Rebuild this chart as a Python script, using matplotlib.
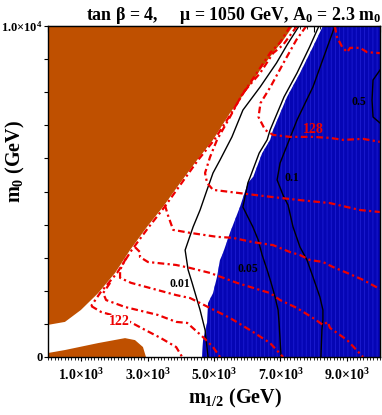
import numpy as np
import matplotlib
matplotlib.use("Agg")
import matplotlib.pyplot as plt
from matplotlib.ticker import FixedLocator, MultipleLocator

plt.rcParams['font.family'] = ['Liberation Serif', 'DejaVu Serif']
plt.rcParams['font.weight'] = 'bold'
plt.rcParams['mathtext.fontset'] = 'custom'
plt.rcParams['mathtext.rm'] = 'Liberation Serif:bold'
plt.rcParams['mathtext.it'] = 'Liberation Serif:bold'
plt.rcParams['mathtext.bf'] = 'Liberation Serif:bold'
plt.rcParams['hatch.linewidth'] = 0.6

# excluded regions (m_1/2, m0 in GeV)
brown_top_x = [0, 7380, 7050, 6840, 6390, 5990, 5480, 4970, 4490, 3980, 3460, 2980, 2470, 2020, 1510, 990, 510, 0]
brown_top_y = [10000, 10000, 9520, 9270, 8670, 8070, 7370, 6560, 5950, 5260, 4530, 3930, 3230, 2540, 1930, 1420, 1060, 970]
brown_low_x = [0, 0, 510, 1510, 2320, 2620, 2860, 2950]
brown_low_y = [0, 120, 210, 420, 570, 510, 300, 0]
blue_x = [8280, 7980, 7590, 7200, 6780, 6690, 6450, 6180, 6020, 5780, 5480, 5270, 5180, 5090, 4970, 4820, 4790, 4670, 4640, 10000, 10000]
blue_y = [10000, 9370, 8580, 7860, 6860, 6560, 6160, 5440, 5260, 4530, 3750, 3140, 2930, 2420, 1930, 1630, 1030, 510, 0, 0, 10000]

# black contours
c001_x = [7560, 7200, 6880, 6390, 5870, 5540, 5180, 4970, 4790, 4580, 4370, 4130, 4220, 4340, 4580, 4730, 4820]
c001_y = [10000, 9430, 8880, 8160, 7460, 6650, 5950, 5560, 5050, 4440, 3930, 3230, 2630, 2240, 1420, 820, 0]
c005_x = [8160, 7880, 7500, 7110, 6690, 6600, 6360, 6090, 6020, 5870, 6170, 6330, 6450, 6600, 6720, 6840, 6930, 6960, 7020]
c005_y = [10000, 9370, 8580, 7860, 6860, 6560, 6160, 5440, 5260, 4530, 3930, 3540, 3080, 2630, 2240, 1810, 1420, 1030, 0]
c01_x = [8640, 8490, 7980, 7500, 7230, 6990, 6900, 7080, 7230, 7380, 7590, 7800, 7980, 8190, 8280, 8280, 8250, 8220]
c01_y = [10000, 9580, 8160, 7160, 6470, 5860, 5350, 4890, 4590, 3930, 3320, 2930, 2420, 1810, 1420, 1120, 820, 0]
c05_x = [10000, 9790, 9760, 9790, 10000]
c05_y = [8670, 8370, 7760, 7250, 7070]

# Higgs mass contours (red dash-dot)
edge_x = [7300, 6990, 6700, 6300, 5900, 5500, 5000, 4520, 4020, 3500, 3030, 2520, 2080, 1580, 1300]
edge_y = [10000, 9500, 9200, 8600, 8000, 7330, 6550, 5950, 5250, 4520, 3920, 3230, 2540, 1950, 1540]
h122_x = [1300, 1600, 2020, 2470, 2920, 3400, 3860, 4040]
h122_y = [1540, 1360, 1240, 1060, 820, 570, 300, 0]
h123_x = [1870, 1660, 1750, 2320, 3310, 3860, 4190, 4670, 4970, 5180]
h123_y = [2240, 1930, 1720, 1510, 1270, 1060, 1030, 600, 300, 0]
h124_x = [2350, 2170, 2170, 2500, 3310, 3860, 4280, 4880, 5480, 6170, 6690, 7080]
h124_y = [2990, 2630, 2390, 2240, 2020, 1870, 1780, 1480, 1180, 760, 420, 0]
h125_x = [2620, 2770, 2770, 3010, 3860, 4280, 4880, 5690, 6690, 6990, 7500, 7980, 8280, 8430, 8490, 9010, 9490]
h125_y = [3320, 3170, 3020, 2870, 2780, 2690, 2540, 2240, 1930, 1720, 1480, 1180, 970, 1060, 880, 510, 0]
h126_x = [3520, 3610, 3770, 4280, 5090, 5570, 6170, 6780, 7290, 7590, 7890, 8280, 8580, 9010, 9490, 10000]
h126_y = [4590, 4290, 3840, 3750, 3630, 3600, 3470, 3380, 3170, 3080, 2930, 2870, 2720, 2540, 2330, 2050]
h127_x = [7500, 7080, 6780, 6390, 5870, 5480, 5090, 4880, 4730, 4790, 4970, 5780, 6780, 7590, 8490, 9400, 10000]
h127_y = [10000, 9430, 9180, 8580, 7980, 7250, 6560, 6040, 5560, 5260, 5050, 4950, 4830, 4740, 4650, 4440, 4380]
h128_x = [7780, 7480, 7090, 6700, 6400, 6340, 6540, 6780, 7290, 7980, 8490, 8890, 9490, 10000]
h128_y = [10000, 9580, 8880, 8160, 7670, 7250, 6860, 6710, 6650, 6650, 6620, 6560, 6590, 6500]
h129_x = [8640, 8700, 8860, 9010, 9100, 9400, 9610, 10000]
h129_y = [10000, 9670, 9370, 9210, 9340, 9340, 9210, 9180]

fig = plt.figure(figsize=(3.82, 4.15), dpi=100)
ax = fig.add_axes([0.1257, 0.1398, 0.8691, 0.7975])

ax.fill(brown_top_x, brown_top_y, color='#bf5000', lw=0)
ax.fill(brown_low_x, brown_low_y, color='#bf5000', lw=0)
ax.fill(blue_x, blue_y, facecolor='#0505b4', edgecolor='#1c1cd2', hatch='||||', lw=0)

for xs, ys in [(c001_x, c001_y), (c005_x, c005_y), (c01_x, c01_y), (c05_x, c05_y)]:
    ax.plot(xs, ys, color='black', lw=1.0)

for xs, ys in [(edge_x, edge_y), (h122_x, h122_y), (h123_x, h123_y), (h124_x, h124_y),
               (h125_x, h125_y), (h126_x, h126_y), (h127_x, h127_y), (h128_x, h128_y),
               (h129_x, h129_y)]:
    ax.plot(xs, ys, color='#ee0000', lw=1.6, ls=(0, (3, 1.5, 1, 1.5)))

ax.text(2140, 1060, '122', color='#ee0000', fontsize=10, ha='center', va='center',
        bbox=dict(facecolor='white', edgecolor='none', pad=0.5))
ax.text(7980, 6880, '128', color='#ee0000', fontsize=10, ha='center', va='center')
ax.text(3980, 2200, '0.01', color='black', fontsize=8.5, ha='center', va='center')
ax.text(6020, 2660, '0.05', color='black', fontsize=8.5, ha='center', va='center')
ax.text(7350, 5410, '0.1', color='black', fontsize=8.5, ha='center', va='center')
ax.text(9370, 7700, '0.5', color='black', fontsize=8.5, ha='center', va='center')

ax.set_xlim(0, 10000)
ax.set_ylim(0, 10000)

xt = [1000, 3000, 5000, 7000, 9000]
ax.xaxis.set_major_locator(FixedLocator(xt))
ax.set_xticklabels([r'1.0$\times$10$^3$', r'3.0$\times$10$^3$', r'5.0$\times$10$^3$',
                    r'7.0$\times$10$^3$', r'9.0$\times$10$^3$'], fontsize=10)
ax.xaxis.set_minor_locator(MultipleLocator(100))
ax.tick_params(axis='x', which='major', direction='out', length=3, width=0.8, pad=4)
ax.tick_params(axis='x', which='minor', direction='out', length=2, width=0.6)

ax.yaxis.set_major_locator(FixedLocator([0, 10000]))
ax.set_yticklabels(['0', r'1.0$\times$10$^4$'], fontsize=9)
ax.yaxis.set_minor_locator(MultipleLocator(1000))
ax.tick_params(axis='y', which='both', direction='out', length=3, width=0.8, pad=1)

top = ax.secondary_xaxis('top')
top.xaxis.set_major_locator(MultipleLocator(1000))
top.xaxis.set_minor_locator(MultipleLocator(200))
top.tick_params(which='major', direction='in', length=4, width=0.8, labeltop=False)
top.tick_params(which='minor', direction='in', length=2, width=0.6)
right = ax.secondary_yaxis('right')
right.yaxis.set_major_locator(MultipleLocator(1000))
right.tick_params(direction='in', length=3, width=0.8, labelright=False)

for s in ax.spines.values():
    s.set_linewidth(1.0)

fig.text(0.997, 0.962, r'tan β = 4,     μ = 1050 GeV, A$_0$ = 2.3 m$_0$', fontsize=12.9,
         ha='right', va='center')
fig.text(0.614, 0.04, r'm$_{1/2}$ (GeV)', fontsize=14.5, ha='center', va='center')
fig.text(0.04, 0.612, r'm$_0$ (GeV)', fontsize=14.5, ha='center', va='center', rotation=90)

fig.savefig('out.png', dpi=100)
